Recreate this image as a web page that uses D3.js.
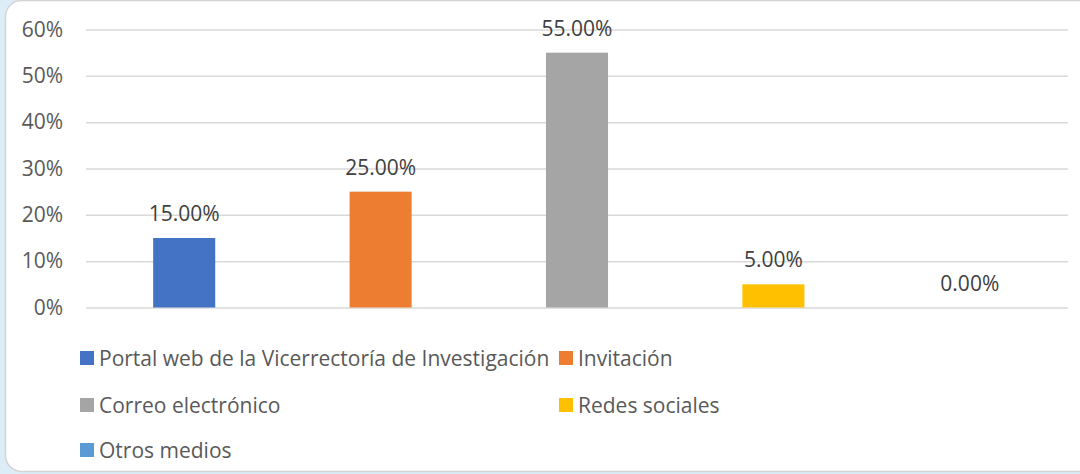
<!DOCTYPE html>
<html>
<head>
<meta charset="utf-8">
<script src="https://d3js.org/d3.v7.min.js"></script>
<style>
  html, body { margin: 0; padding: 0; background: #dcedf8; }
  svg { display: block; font-family: "Open Sans", Lato, sans-serif; }
</style>
</head>
<body>
<div id="chart"></div>
<script>
// data
var categories = ["Portal web de la Vicerrectoría de Investigación", "Invitación", "Correo electrónico", "Redes sociales", "Otros medios"];
var values = [0.15, 0.25, 0.55, 0.05, 0.00];
var colors = ["#4472C4", "#ED7D31", "#A5A5A5", "#FFC000", "#5B9BD5"];
var yTicks = [0, 0.1, 0.2, 0.3, 0.4, 0.5, 0.6];

var svgWidth = 1080;
var svgHeight = 474;

var plot = { left: 86, right: 1068, top: 29.5, bottom: 307.5 };

var svg = d3.select("#chart")
  .append("svg")
  .attr("width", svgWidth)
  .attr("height", svgHeight);

// card background
svg.append("rect")
  .attr("x", 5.5)
  .attr("y", 0.5)
  .attr("width", 1090)
  .attr("height", 471)
  .attr("rx", 16)
  .attr("fill", "#ffffff")
  .attr("stroke", "#d4d4d4")
  .attr("stroke-width", 1.5);

var xScale = d3.scaleBand()
  .domain(categories)
  .range([plot.left, plot.right])
  .paddingInner(0.684)
  .paddingOuter(0.342);

var yScale = d3.scaleLinear()
  .domain([0, 0.6])
  .range([plot.bottom, plot.top]);

// gridlines + y axis
var yAxis = d3.axisLeft(yScale)
  .tickValues(yTicks)
  .tickFormat(d3.format(".0%"))
  .tickSize(-(plot.right - plot.left))
  .tickPadding(23);

var yGroup = svg.append("g")
  .attr("transform", `translate(${plot.left}, 0)`)
  .call(yAxis);

yGroup.select(".domain").remove();
yGroup.selectAll(".tick line")
  .attr("stroke", "#d9d9d9")
  .attr("stroke-width", 1.5);
yGroup.selectAll(".tick text")
  .attr("fill", "#595959")
  .style("font-size", "21px")
  .style("font-family", "'Open Sans', Lato, sans-serif");

// bars
svg.selectAll("rect.bar")
  .data(values)
  .enter()
  .append("rect")
  .attr("class", "bar")
  .attr("x", (d, i) => xScale(categories[i]))
  .attr("y", d => yScale(d))
  .attr("width", xScale.bandwidth())
  .attr("height", d => yScale(0) - yScale(d))
  .attr("fill", (d, i) => colors[i]);

// value labels
svg.selectAll("text.label")
  .data(values)
  .enter()
  .append("text")
  .attr("class", "label")
  .attr("x", (d, i) => xScale(categories[i]) + xScale.bandwidth() / 2)
  .attr("y", d => yScale(d) - 17)
  .attr("text-anchor", "middle")
  .attr("fill", "#404040")
  .style("font-size", "21px")
  .text(d => d3.format(".2%")(d));

// legend, two columns
var legendCols = [80, 559];
var legendRows = [358, 405, 450];

var legend = svg.selectAll("g.legend")
  .data(categories)
  .enter()
  .append("g")
  .attr("class", "legend")
  .attr("transform", (d, i) => `translate(${legendCols[i % 2]}, ${legendRows[Math.floor(i / 2)]})`);

legend.append("rect")
  .attr("x", 0)
  .attr("y", -7)
  .attr("width", 14)
  .attr("height", 14)
  .attr("fill", (d, i) => colors[i]);

legend.append("text")
  .attr("x", 19)
  .attr("y", 7.5)
  .attr("fill", "#595959")
  .style("font-size", "21px")
  .text(d => d);
</script>
</body>
</html>
